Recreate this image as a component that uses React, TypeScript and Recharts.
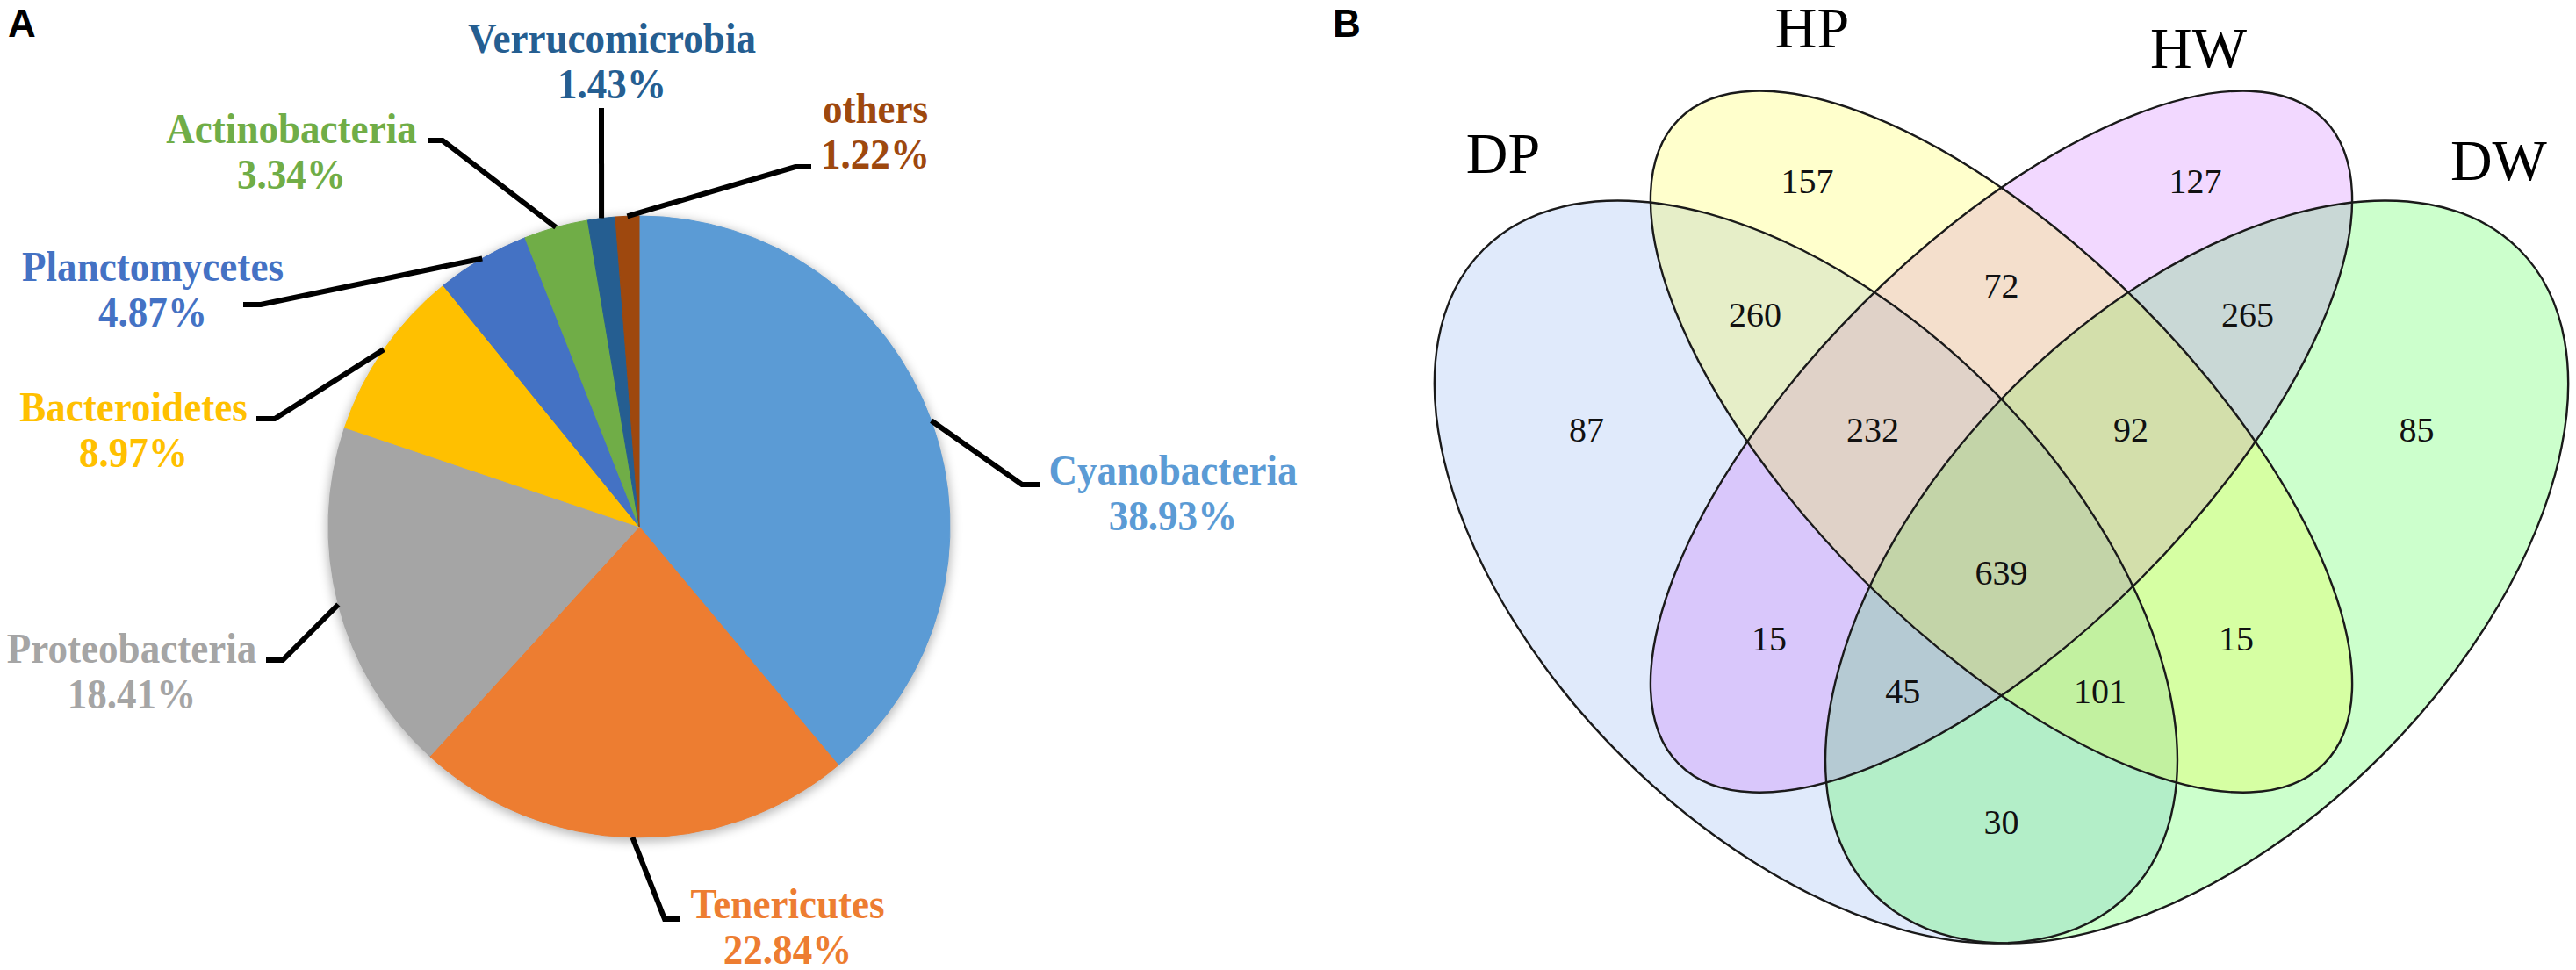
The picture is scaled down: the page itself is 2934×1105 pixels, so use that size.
import React from "react";
import { PieChart, Pie, Cell, ScatterChart, Scatter, XAxis, YAxis } from "recharts";

// panel A: relative abundance of phyla (%)
const phyla = [
  "Cyanobacteria",
  "Tenericutes",
  "Proteobacteria",
  "Bacteroidetes",
  "Planctomycetes",
  "Actinobacteria",
  "Verrucomicrobia",
  "others",
];
const shares = [38.93, 22.84, 18.41, 8.97, 4.87, 3.34, 1.43, 1.22];
const phylumColors = ["#5B9BD5", "#ED7D31", "#A5A5A5", "#FFC000", "#4472C4", "#70AD47", "#255E91", "#9E480E"];

// panel B: shared OTUs between groups (drawing order of the ellipses)
const groupNames = ["DP", "DW", "HW", "HP"];
const groupFills = ["#6495ED", "#00FF00", "#BF3EFF", "#FFFF00"];
const regionCounts = [87, 157, 127, 85, 260, 72, 265, 232, 639, 92, 15, 45, 101, 15, 30];

const W = 2934;
const H = 1105;
const serif = "'Liberation Serif', 'Times New Roman', serif";
const sans = "'Liberation Sans', Arial, sans-serif";

// pie geometry + label placement (offsets from pie centre, px)
const PIE = { cx: 728, cy: 600, r: 354 };
const LINE_GAP = 52;
const pieLabelLayout = [
  { elbow: [436, -48], end: [456, -48], tx: 608, ty: -48 },
  { elbow: [29, 447], end: [46, 447], tx: 169, ty: 446 },
  { elbow: [-406, 152], end: [-425, 152], tx: -578, ty: 155 },
  { elbow: [-415, -123], end: [-436, -123], tx: -576, ty: -120 },
  { elbow: [-431, -253], end: [-451, -253], tx: -554, ty: -280 },
  { elbow: [-224, -440], end: [-241, -440], tx: -396, ty: -437 },
  { elbow: [-43, -477], end: [-43, -477], tx: -31, ty: -540 },
  { elbow: [178, -410], end: [196, -410], tx: 269, ty: -460 },
];

// venn: unit square (y up) mapped to px
const VENN_SCALE = 1484;
const VENN_OX = 1537.5;
const VENN_OY = 1349;
const VENN_LEFT = 1500;
const VENN_W = W - VENN_LEFT;
const xDomain = [(VENN_LEFT - VENN_OX) / VENN_SCALE, (W - VENN_OX) / VENN_SCALE];
const yDomain = [(VENN_OY - H) / VENN_SCALE, VENN_OY / VENN_SCALE];

const ellipseLayout = [
  { u: 0.35, v: 0.47, a: 0.35, b: 0.2, rot: 45 },
  { u: 0.65, v: 0.47, a: 0.35, b: 0.2, rot: -45 },
  { u: 0.5, v: 0.57, a: 0.35, b: 0.15, rot: -45 },
  { u: 0.5, v: 0.57, a: 0.35, b: 0.15, rot: 45 },
];
const groupLabelSpots = [
  { u: 0.1176, v: 0.7763 },
  { u: 0.8817, v: 0.7709 },
  { u: 0.6513, v: 0.8571 },
  { u: 0.3548, v: 0.8725 },
];
const regionSpots = [
  { u: 0.1816, v: 0.5795 },
  { u: 0.351, v: 0.77 },
  { u: 0.649, v: 0.77 },
  { u: 0.8187, v: 0.5795 },
  { u: 0.311, v: 0.668 },
  { u: 0.5, v: 0.69 },
  { u: 0.689, v: 0.668 },
  { u: 0.4013, v: 0.5795 },
  { u: 0.5, v: 0.4697 },
  { u: 0.5994, v: 0.5795 },
  { u: 0.3217, v: 0.4191 },
  { u: 0.4244, v: 0.3787 },
  { u: 0.5758, v: 0.3787 },
  { u: 0.6802, v: 0.4191 },
  { u: 0.5, v: 0.2783 },
];

const pieData = phyla.map((name, i) => ({ name, value: shares[i] }));
const ellipseData = groupNames.map((name, i) => ({ name, fill: groupFills[i], ...ellipseLayout[i] }));
const groupLabelData = groupNames.map((name, i) => ({ name, ...groupLabelSpots[i] }));
const regionData = regionCounts.map((count, i) => ({ count, ...regionSpots[i] }));

const RAD = Math.PI / 180;
const NARROW = 0.92;

const renderPieLabel = (props: any) => {
  const { cx, cy, midAngle, outerRadius, index } = props;
  const lay = pieLabelLayout[index];
  const sx = cx + outerRadius * Math.cos(-midAngle * RAD);
  const sy = cy + outerRadius * Math.sin(-midAngle * RAD);
  const pts = [
    [sx, sy],
    [cx + lay.elbow[0], cy + lay.elbow[1]],
    [cx + lay.end[0], cy + lay.end[1]],
  ];
  const tx = cx + lay.tx;
  const ty = cy + lay.ty;
  return (
    <g key={`lbl-${index}`}>
      <polyline
        points={pts.map((p) => p.join(",")).join(" ")}
        fill="none"
        stroke="#000"
        strokeWidth={6}
        strokeLinejoin="miter"
      />
      {/* Excel-style labels are a touch condensed */}
      <g transform={`translate(${tx} 0) scale(${NARROW} 1) translate(${-tx} 0)`}>
        <text
          x={tx}
          y={ty}
          textAnchor="middle"
          fill={phylumColors[index]}
          fontFamily={serif}
          fontWeight="bold"
          fontSize={49}
        >
          <tspan x={tx} y={ty}>{phyla[index]}</tspan>
          <tspan x={tx} y={ty + LINE_GAP}>{`${shares[index].toFixed(2)}%`}</tspan>
        </text>
      </g>
    </g>
  );
};

const EllipseFill = (props: any) => {
  const { cx, cy, payload } = props;
  return (
    <ellipse
      cx={cx}
      cy={cy}
      rx={payload.a * VENN_SCALE}
      ry={payload.b * VENN_SCALE}
      transform={`rotate(${payload.rot} ${cx} ${cy})`}
      fill={payload.fill}
      fillOpacity={0.2}
      stroke="none"
    />
  );
};

const EllipseEdge = (props: any) => {
  const { cx, cy, payload } = props;
  return (
    <ellipse
      cx={cx}
      cy={cy}
      rx={payload.a * VENN_SCALE}
      ry={payload.b * VENN_SCALE}
      transform={`rotate(${payload.rot} ${cx} ${cy})`}
      fill="none"
      stroke="#1a1a1a"
      strokeWidth={2.4}
    />
  );
};

const GroupLabel = (props: any) => (
  <text x={props.cx} y={props.cy} textAnchor="middle" fontFamily={serif} fontSize={66} fill="#000">
    {props.payload.name}
  </text>
);

const CountLabel = (props: any) => (
  <text x={props.cx} y={props.cy} dy="0.35em" textAnchor="middle" fontFamily={serif} fontSize={40} fill="#111">
    {props.payload.count}
  </text>
);

export default function App() {
  return (
    <div style={{ position: "absolute", left: 0, top: 0, width: W, height: H, overflow: "hidden", background: "#fff" }}>
      <svg width={0} height={0} style={{ position: "absolute" }}>
        <defs>
          <filter id="pieShadow" x="-30%" y="-30%" width="160%" height="160%">
            <feGaussianBlur stdDeviation="6" />
          </filter>
        </defs>
      </svg>

      <div style={{ position: "absolute", left: 0, top: 0 }}>
        <PieChart width={VENN_LEFT} height={H} margin={{ top: 0, right: 0, bottom: 0, left: 0 }}>
          <Pie
            data={pieData}
            dataKey="value"
            cx={PIE.cx}
            cy={PIE.cy + 3}
            outerRadius={PIE.r + 2}
            startAngle={90}
            endAngle={-270}
            stroke="none"
            isAnimationActive={false}
          >
            {pieData.map((d, i) => (
              <Cell key={`sh-${i}`} fill="#000" fillOpacity={0.28} filter="url(#pieShadow)" />
            ))}
          </Pie>
          <Pie
            data={pieData}
            dataKey="value"
            cx={PIE.cx}
            cy={PIE.cy}
            outerRadius={PIE.r}
            startAngle={90}
            endAngle={-270}
            labelLine={false}
            label={renderPieLabel}
            isAnimationActive={false}
          >
            {pieData.map((d, i) => (
              <Cell key={`c-${i}`} fill={phylumColors[i]} stroke={phylumColors[i]} strokeWidth={1} />
            ))}
          </Pie>
        </PieChart>
      </div>

      <div style={{ position: "absolute", left: VENN_LEFT, top: 0 }}>
        <ScatterChart width={VENN_W} height={H} margin={{ top: 0, right: 0, bottom: 0, left: 0 }}>
          <XAxis type="number" dataKey="u" domain={xDomain} allowDataOverflow hide />
          <YAxis type="number" dataKey="v" domain={yDomain} allowDataOverflow hide />
          <Scatter data={ellipseData} shape={EllipseFill} isAnimationActive={false} />
          <Scatter data={ellipseData} shape={EllipseEdge} isAnimationActive={false} />
          <Scatter data={regionData} shape={CountLabel} isAnimationActive={false} />
          <Scatter data={groupLabelData} shape={GroupLabel} isAnimationActive={false} />
        </ScatterChart>
      </div>

      <svg width={W} height={H} style={{ position: "absolute", left: 0, top: 0, pointerEvents: "none" }}>
        <text x={9} y={42} fontFamily={sans} fontWeight="bold" fontSize={44} fill="#000">A</text>
        <text x={1518} y={42} fontFamily={sans} fontWeight="bold" fontSize={44} fill="#000">B</text>
      </svg>
    </div>
  );
}
